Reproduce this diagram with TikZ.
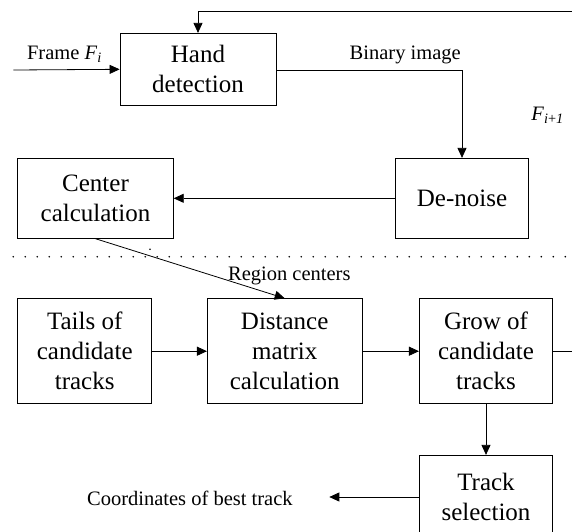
\documentclass[tikz,border=0pt]{standalone}
\usepackage{fontspec}
\setmainfont{Liberation Serif}
\newfontfamily\boxfont{Liberation Serif}
\usetikzlibrary{arrows.meta}
\begin{document}
\begin{tikzpicture}[x=1pt,y=-1pt,
  line width=0.8pt,
  box/.style={draw, line width=0.8pt, inner sep=0pt, align=center,
    font=\boxfont\fontsize{25}{30}\selectfont},
  lbl/.style={inner sep=0pt, font=\boxfont\fontsize{20.5}{24}\selectfont},
  arr/.style={-{Triangle[length=10pt,width=9pt]}},
  dotline/.style={line width=1.8pt, line cap=round, dash pattern=on 0pt off 12pt}]
\useasboundingbox (0,0) rectangle (572,531);
\clip (0,0) rectangle (572,531);
% boxes
\node[box, minimum width=156pt, minimum height=72pt] (hand) at (198,69.3) {Hand\\detection};
\node[box, minimum width=133.3pt, minimum height=80pt] (denoise) at (462,198.3) {De-noise};
\node[box, minimum width=155.6pt, minimum height=80pt] (center) at (95.5,198.3) {Center\\calculation};
\node[box, minimum width=134pt, minimum height=105pt] (tails) at (84.7,351.2) {Tails of\\candidate\\tracks};
\node[box, minimum width=154.7pt, minimum height=105pt] (dist) at (284.7,351.2) {Distance\\matrix\\calculation};
\node[box, minimum width=133.3pt, minimum height=105pt] (grow) at (486,351.2) {Grow of\\candidate\\tracks};
\node[box, minimum width=133.3pt, minimum height=83.4pt] (track) at (486,497) {Track\\selection};
% labels
\node[lbl, anchor=base west] (lframe) at (26.7,59.3) {Frame \textit{F}\textsubscript{\textit{i}}};
\node[lbl, anchor=base west] (lbin) at (349.3,59.3) {Binary image};
\node[lbl, anchor=base west] (lfi) at (531,120) {\textit{F}\textsubscript{\textit{i}+\textit{1}}};
\node[lbl, anchor=base west] (lreg) at (227.7,280) {Region centers};
\node[lbl, anchor=base west] (lcoord) at (86.7,505) {Coordinates of best track};
% coordinates
\coordinate (fin) at (13.3,70);
\coordinate (fbR) at (572,11.7);
\coordinate (fbL) at (198,11.7);
\coordinate (binc) at (462,70);
\coordinate (growR) at (572,351.2);
\coordinate (out) at (329.3,497);
\coordinate (dotA) at (13.3,256.7);
\coordinate (dotB) at (572,256.7);
% connectors
\draw[arr] (fin) -- (hand.west);
\draw[arr] (fbR) -- (fbL) -- (hand.north);
\draw[arr] (hand.east |- binc) -- (binc) -- (denoise.north);
\draw[arr] (denoise.west) -- (center.east);
\draw[arr] (center.south) -- (dist.north);
\draw[arr] (tails.east) -- (dist.west);
\draw[arr] (dist.east) -- (grow.west);
\draw (grow.east) -- (growR);
\draw[arr] (grow.south) -- (track.north);
\draw[arr] (track.west |- out) -- (out);
% dotted separator
\draw[dotline] (dotA) -- (dotB);
\fill (150,249.3) circle (0.9pt);
\end{tikzpicture}
\end{document}
